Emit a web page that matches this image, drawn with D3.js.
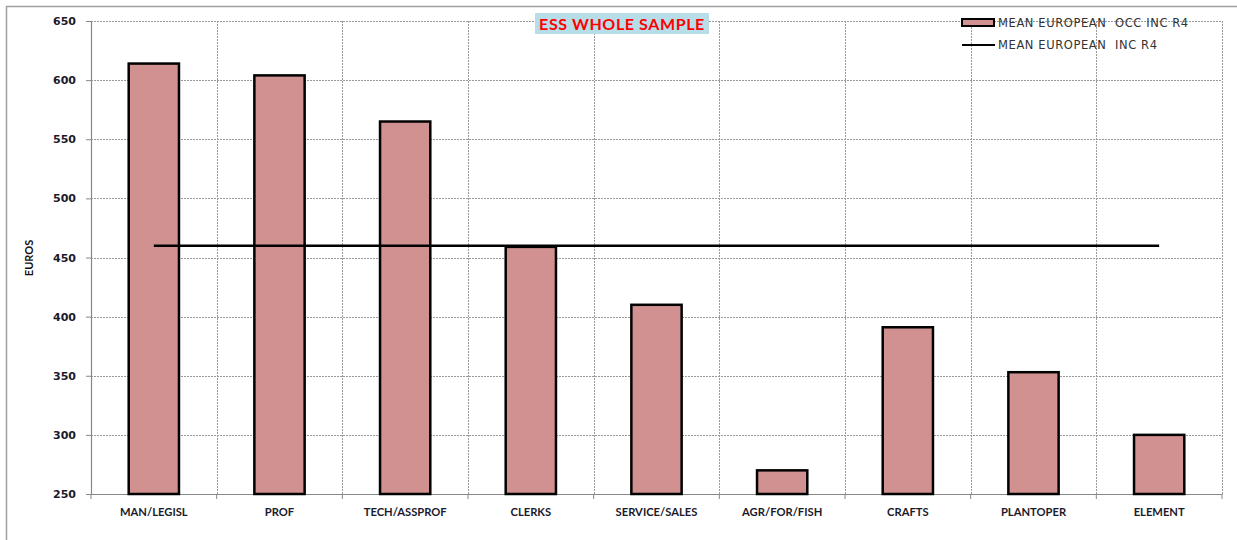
<!DOCTYPE html>
<html>
<head>
<meta charset="utf-8">
<script src="https://cdn.jsdelivr.net/npm/d3@7"></script>
<style>
  html, body { margin: 0; padding: 0; background: #fff; }
  svg { display: block; font-family: Lato, "Open Sans", sans-serif; }
</style>
</head>
<body>
<svg id="chart" width="1237" height="540"></svg>
<script>
// Mean income by occupation group, ESS whole sample
const categories = ["MAN/LEGISL", "PROF", "TECH/ASSPROF", "CLERKS", "SERVICE/SALES",
                    "AGR/FOR/FISH", "CRAFTS", "PLANTOPER", "ELEMENT"];
const occIncome = [614, 604, 565, 459, 410, 270, 391, 353, 300];
const meanIncome = 460;
const yTicks = [250, 300, 350, 400, 450, 500, 550, 600, 650];
const seriesNames = ["MEAN EUROPEAN  OCC INC R4", "MEAN EUROPEAN  INC R4"];
const chartTitle = "ESS WHOLE SAMPLE";

const svg = d3.select("#chart");
const plot = { left: 91, right: 1222, top: 21, bottom: 494 };

const x = d3.scaleBand().domain(categories).range([plot.left, plot.right]).padding(0);
const y = d3.scaleLinear().domain([250, 650]).range([plot.bottom, plot.top]);
const barW = x.bandwidth() * 0.4;

// outer frame
svg.append("path")
  .attr("d", "M6.5,540 V6.5 H1237")
  .attr("fill", "none").attr("stroke", "#a0a0a0").attr("stroke-width", 1.5);

// grid
const grid = svg.append("g");
grid.selectAll("line.h").data(yTicks.filter(d => d > 250)).join("line")
  .attr("x1", plot.left).attr("x2", plot.right)
  .attr("y1", d => Math.round(y(d)) + 0.5).attr("y2", d => Math.round(y(d)) + 0.5)
  .attr("stroke", "#9a9a9a").attr("stroke-width", 1).attr("stroke-dasharray", "2,1");
grid.selectAll("line.v").data(categories.slice(1).concat([null])).join("line")
  .attr("x1", (d, i) => Math.round(plot.left + (i + 1) * x.step()) + 0.5)
  .attr("x2", (d, i) => Math.round(plot.left + (i + 1) * x.step()) + 0.5)
  .attr("y1", plot.top).attr("y2", plot.bottom)
  .attr("stroke", "#9a9a9a").attr("stroke-width", 1).attr("stroke-dasharray", "2,1");

// y axis
const yAxis = svg.append("g").attr("transform", `translate(${plot.left},0)`)
  .call(d3.axisLeft(y).tickValues(yTicks).tickSize(5).tickPadding(10));
yAxis.select(".domain").attr("stroke", "#888").attr("stroke-width", 1.2);
yAxis.selectAll(".tick line").attr("stroke", "#888");
yAxis.selectAll(".tick text")
  .attr("font-family", "'DejaVu Sans', sans-serif").attr("font-size", 11).attr("font-weight", "bold")
  .attr("fill", "#1a1a2a");

// x axis
const xAxis = svg.append("g").attr("transform", `translate(0,${plot.bottom})`)
  .call(d3.axisBottom(x).tickSize(0).tickPadding(14));
xAxis.select(".domain").attr("stroke", "#888").attr("stroke-width", 1.2);
xAxis.selectAll(".tick text")
  .attr("font-family", "Lato, sans-serif").attr("font-size", 11.2).attr("font-weight", "bold")
  .attr("fill", "#1a1a2a");
// small ticks at the band boundaries
xAxis.selectAll("line.bt").data(d3.range(categories.length + 1)).join("line")
  .attr("x1", i => plot.left + i * x.step()).attr("x2", i => plot.left + i * x.step())
  .attr("y1", 0).attr("y2", 5).attr("stroke", "#888");

// bars
svg.append("g").selectAll("rect").data(categories).join("rect")
  .attr("x", (d, i) => x(d) + (x.bandwidth() - barW) / 2)
  .attr("y", (d, i) => y(occIncome[i]))
  .attr("width", barW)
  .attr("height", (d, i) => y(250) - y(occIncome[i]))
  .attr("fill", "#d19191").attr("stroke", "#000").attr("stroke-width", 2.5);

// mean income line
svg.append("line")
  .attr("x1", x(categories[0]) + x.bandwidth() / 2)
  .attr("x2", x(categories[categories.length - 1]) + x.bandwidth() / 2)
  .attr("y1", y(meanIncome)).attr("y2", y(meanIncome))
  .attr("stroke", "#000").attr("stroke-width", 2.5);

// axis title
svg.append("text")
  .attr("transform", "translate(33,258) rotate(-90)")
  .attr("text-anchor", "middle")
  .attr("font-family", "Lato, sans-serif").attr("font-size", 11).attr("font-weight", "bold")
  .attr("fill", "#111").text("EUROS");

// chart title
const tg = svg.append("g");
tg.append("rect").attr("x", 535).attr("y", 13).attr("width", 174).attr("height", 21)
  .attr("fill", "#b7dde8");
tg.append("text").attr("x", 622).attr("y", 29.5).attr("text-anchor", "middle")
  .attr("font-family", "Lato, sans-serif").attr("font-size", 16).attr("font-weight", "bold")
  .attr("letter-spacing", 0.6)
  .attr("fill", "#ff0000").text(chartTitle);

// legend
const lg = svg.append("g");
lg.append("rect").attr("x", 962).attr("y", 19).attr("width", 32).attr("height", 7)
  .attr("fill", "#d19191").attr("stroke", "#000").attr("stroke-width", 2);
lg.append("line").attr("x1", 962).attr("x2", 995).attr("y1", 45).attr("y2", 45)
  .attr("stroke", "#000").attr("stroke-width", 2);
lg.selectAll("text").data(seriesNames).join("text")
  .attr("x", 998).attr("y", (d, i) => 27 + i * 22)
  .attr("font-family", "'DejaVu Sans', sans-serif").attr("font-size", 11.5)
  .attr("letter-spacing", 0.6)
  .attr("fill", "#333").attr("xml:space", "preserve")
  .style("white-space", "pre").text(d => d);
</script>
</body>
</html>
